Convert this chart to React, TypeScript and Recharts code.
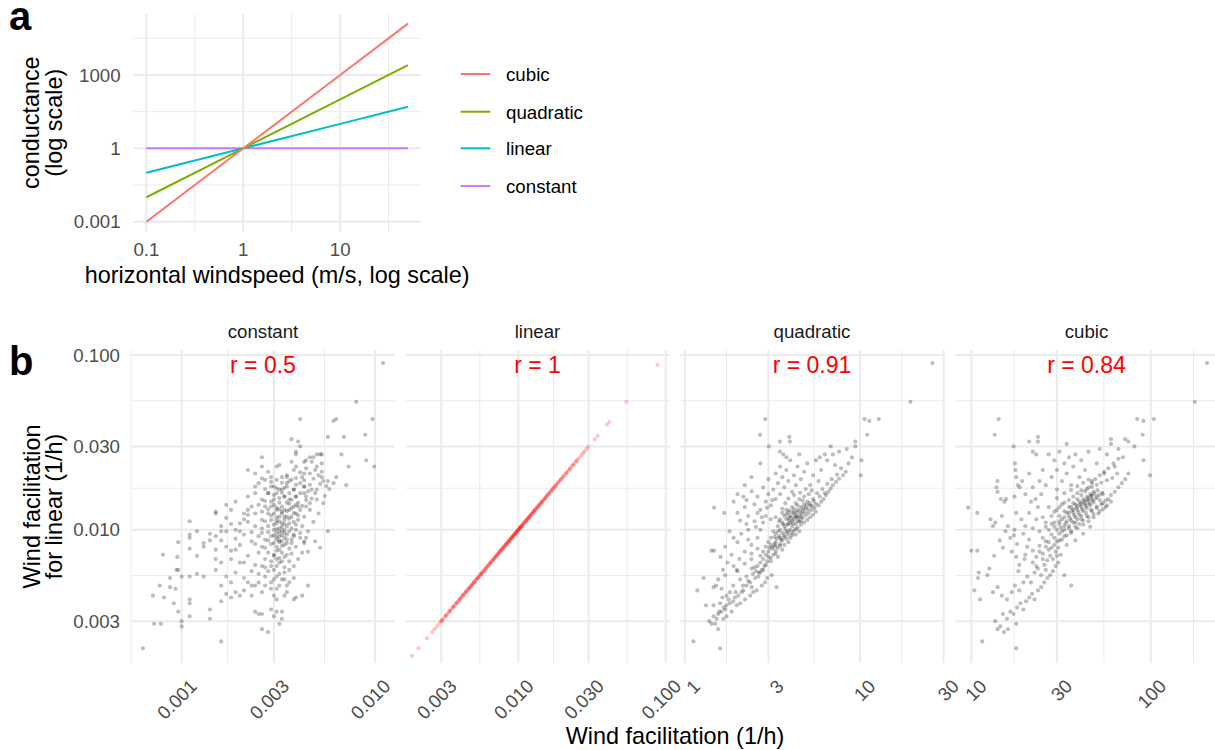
import React from "react";
import { LineChart, Line, ScatterChart, Scatter, XAxis, YAxis, ReferenceLine } from "recharts";

const FONT = '"Liberation Sans", Arial, sans-serif';
const GRID = "#EBEBEB";
const TICK = "#4D4D4D";

// ---- panel a: conductance vs windspeed ----
const windspeed = [0.1, 1, 10, 50];
const cubicG = [0.001, 1, 1000, 125000];
const quadraticG = [0.01, 1, 100, 2500];
const linearG = [0.1, 1, 10, 50];
const constantG = [1, 1, 1, 1];

const seriesA = [
  { key: "cubic", color: "#F8766D", values: cubicG },
  { key: "quadratic", color: "#7CAE00", values: quadraticG },
  { key: "linear", color: "#00BFC4", values: linearG },
  { key: "constant", color: "#C77CFF", values: constantG },
];

const aXTicks = [0.1, 1, 10];
const aXLabels = ["0.1", "1", "10"];
const aXMinor = [0.316, 3.16, 31.6];
const aYTicks = [0.001, 1, 1000];
const aYLabels = ["0.001", "1", "1000"];
const aYMinor = [0.0316, 31.6, 31623];

// ---- panel b: wind facilitation, y = linear model ----
const bYTicks = [0.003, 0.01, 0.03, 0.1];
const bYLabels = ["0.003", "0.010", "0.030", "0.100"];
const bYMinor = [0.00548, 0.0173, 0.0548];

const constantPoints = [
  [0.011, 0.09], [0.008, 0.054], [0.0097, 0.043], [0.0063, 0.043], [0.0061, 0.042], [0.0041, 0.043],
  [0.0089, 0.035], [0.0069, 0.034], [0.0057, 0.034], [0.0037, 0.033], [0.004, 0.032], [0.0041, 0.03],
  [0.0039, 0.028], [0.0039, 0.027], [0.0026, 0.026], [0.0067, 0.027], [0.009, 0.025], [0.0099, 0.023],
  [0.0073, 0.023], [0.0071, 0.018], [0.0057, 0.019], [0.0063, 0.02], [0.0046, 0.026], [0.0048, 0.026],
  [0.005, 0.027], [0.0052, 0.027], [0.0053, 0.027], [0.0044, 0.025],
  [0.0053, 0.024], [0.005, 0.023], [0.0053, 0.0215], [0.0053, 0.02], [0.0054, 0.019], [0.0056, 0.0178],
  [0.0058, 0.0171], [0.0061, 0.0185], [0.0049, 0.022], [0.0046, 0.021], [0.0043, 0.021], [0.0042, 0.02],
  [0.0039, 0.0198], [0.0022, 0.022], [0.0024, 0.021], [0.0026, 0.023], [0.0028, 0.0215], [0.0031, 0.023],
  [0.0032, 0.0235], [0.0029, 0.02], [0.0033, 0.02], [0.0035, 0.02], [0.0036, 0.019],
  [0.0055, 0.0156], [0.0054, 0.0142], [0.005, 0.0149], [0.0046, 0.0142], [0.0044, 0.0136], [0.0051, 0.0124],
  [0.0057, 0.0098], [0.0052, 0.0079], [0.0049, 0.0086], [0.0044, 0.009], [0.0043, 0.0084],
  [0.0045, 0.0048], [0.0042, 0.0042], [0.0039, 0.0041], [0.0038, 0.004],
  [0.0032, 0.0029], [0.0031, 0.0034], [0.0029, 0.0035], [0.0026, 0.0033], [0.0025, 0.0033], [0.0024, 0.0034],
  [0.0033, 0.0034], [0.003, 0.0032], [0.0033, 0.0031], [0.0026, 0.0027], [0.0028, 0.0026],
  [0.00063, 0.0021], [0.00072, 0.0029], [0.00078, 0.0029], [0.00081, 0.0041], [0.00071, 0.0042],
  [0.00077, 0.0048], [0.00087, 0.0047], [0.00093, 0.0046], [0.00091, 0.0038], [0.00096, 0.0034],
  [0.001, 0.003], [0.001, 0.0028], [0.0011, 0.004], [0.0011, 0.0038], [0.0011, 0.0032], [0.0014, 0.0035],
  [0.0014, 0.0031], [0.0016, 0.0023], [0.0016, 0.0039], [0.0017, 0.0043], [0.0018, 0.0041],
  [0.0008, 0.0072], [0.00095, 0.007], [0.00096, 0.0085], [0.0011, 0.0112], [0.0011, 0.0094], [0.0011, 0.0078],
  [0.0011, 0.009], [0.0012, 0.0098], [0.0013, 0.0084], [0.0013, 0.008], [0.0014, 0.0095], [0.0014, 0.0087],
  [0.0012, 0.0071], [0.0011, 0.0054], [0.0012, 0.0056], [0.0013, 0.0054], [0.00096, 0.0059], [0.00094, 0.0059],
  [0.00087, 0.0053], [0.001, 0.0054],
  [0.0015, 0.0124], [0.0015, 0.0127], [0.0016, 0.0105], [0.0017, 0.0139], [0.0018, 0.013], [0.0019, 0.0145],
  [0.0021, 0.0124], [0.0022, 0.013], [0.002, 0.0109], [0.0019, 0.01], [0.0017, 0.0098], [0.0016, 0.0098],
  [0.0015, 0.0092], [0.0015, 0.0077], [0.0017, 0.008], [0.0019, 0.0077], [0.0018, 0.0068], [0.0016, 0.0065],
  [0.0015, 0.0059], [0.0015, 0.0068], [0.002, 0.0065], [0.0021, 0.0065], [0.0019, 0.0057], [0.0021, 0.0053],
  [0.0022, 0.005], [0.0017, 0.0054], [0.0018, 0.005], [0.0016, 0.0048], [0.0019, 0.0044], [0.002, 0.0042],
  [0.0021, 0.0045], [0.0023, 0.0048], [0.0023, 0.0042], [0.0024, 0.0048], [0.0025, 0.005], [0.0026, 0.0044],
  [0.0027, 0.0048], [0.0029, 0.0046], [0.003, 0.0042], [0.0031, 0.004], [0.0034, 0.0042], [0.0035, 0.0044],
  [0.0036, 0.005], [0.0031, 0.0054], [0.0034, 0.0052], [0.0038, 0.0053],
  [0.0023, 0.0136], [0.0024, 0.0124], [0.0024, 0.0105], [0.0026, 0.0149], [0.0026, 0.0114], [0.0026, 0.0096],
  [0.0026, 0.008], [0.0027, 0.0136], [0.0027, 0.0088], [0.0027, 0.0068], [0.0028, 0.0162], [0.0028, 0.0124],
  [0.0028, 0.0105], [0.0028, 0.0074], [0.0029, 0.0177], [0.0029, 0.0136], [0.0029, 0.0114], [0.0029, 0.0092],
  [0.0029, 0.0062], [0.003, 0.0149], [0.003, 0.0124], [0.003, 0.01], [0.003, 0.0084], [0.003, 0.0071],
  [0.0031, 0.0193], [0.0031, 0.0162], [0.0031, 0.013], [0.0031, 0.0109], [0.0031, 0.0096], [0.0031, 0.0088],
  [0.0031, 0.008], [0.0031, 0.0068], [0.0032, 0.0143], [0.0032, 0.0119], [0.0032, 0.0102], [0.0032, 0.0092],
  [0.0032, 0.0077], [0.0032, 0.0065], [0.0033, 0.017], [0.0033, 0.0136], [0.0033, 0.0124], [0.0033, 0.0109],
  [0.0033, 0.0098], [0.0033, 0.0086], [0.0033, 0.0074], [0.0034, 0.0155], [0.0034, 0.013], [0.0034, 0.0114],
  [0.0034, 0.01], [0.0034, 0.009], [0.0034, 0.0082], [0.0034, 0.007], [0.0035, 0.0185], [0.0035, 0.0143],
  [0.0035, 0.0119], [0.0035, 0.0105], [0.0035, 0.0094], [0.0035, 0.0084], [0.0036, 0.0162], [0.0036, 0.013],
  [0.0036, 0.0109], [0.0036, 0.0098], [0.0036, 0.0078], [0.0037, 0.0149], [0.0037, 0.0119], [0.0037, 0.0102],
  [0.0037, 0.0088], [0.0038, 0.017], [0.0038, 0.0136], [0.0038, 0.0111], [0.0038, 0.0094], [0.0039, 0.0155],
  [0.0039, 0.0124], [0.0039, 0.01], [0.004, 0.0143], [0.004, 0.0114], [0.0041, 0.0162], [0.0041, 0.013],
  [0.0042, 0.0105], [0.0043, 0.0177], [0.0043, 0.0119], [0.0044, 0.0155], [0.0045, 0.0098], [0.0046, 0.013],
  [0.0047, 0.017], [0.0048, 0.0111], [0.0025, 0.0185], [0.0027, 0.0193], [0.0024, 0.0162], [0.0022, 0.0155],
  [0.0022, 0.0111], [0.0021, 0.0094], [0.0023, 0.0086], [0.0025, 0.0074], [0.0026, 0.0062], [0.0028, 0.0058],
  [0.003, 0.0059], [0.0032, 0.0056], [0.0034, 0.0061], [0.0036, 0.0066], [0.0033, 0.0052], [0.0035, 0.0048],
  [0.0031, 0.0046], [0.0029, 0.005], [0.0027, 0.0054], [0.0037, 0.0073], [0.0039, 0.008], [0.0041, 0.009],
  [0.0043, 0.0086], [0.0045, 0.0075],
  [0.0037, 0.0245], [0.0039, 0.023], [0.0043, 0.0245], [0.0044, 0.0225], [0.0047, 0.0245], [0.0038, 0.022],
  [0.0041, 0.0185], [0.0043, 0.0177], [0.0046, 0.0181], [0.005, 0.017], [0.0038, 0.017], [0.0035, 0.0177],
  [0.0032, 0.017], [0.003, 0.0177], [0.0036, 0.0149], [0.0039, 0.0155], [0.0043, 0.0162], [0.004, 0.0136],
  [0.0034, 0.0155], [0.0028, 0.0162], [0.0024, 0.0177], [0.0026, 0.0197],
  [0.0029, 0.0121], [0.0031, 0.0118], [0.0033, 0.0127], [0.003, 0.0139], [0.0032, 0.0152], [0.0034, 0.0108],
  [0.0031, 0.0101], [0.003, 0.0093], [0.0032, 0.0087], [0.0033, 0.0081], [0.0031, 0.0076], [0.003, 0.0072],
  [0.0032, 0.0069], [0.0029, 0.0083], [0.0028, 0.0097], [0.0027, 0.0112], [0.0026, 0.0127], [0.0025, 0.0139],
  [0.0027, 0.0146], [0.0033, 0.0163], [0.0034, 0.0174], [0.0036, 0.0141], [0.0035, 0.0128], [0.0037, 0.0133],
  [0.0036, 0.0116], [0.0034, 0.0096], [0.0035, 0.0088], [0.0033, 0.0093], [0.0032, 0.0112], [0.0031, 0.0134],
  [0.003, 0.0158], [0.0029, 0.0145], [0.0028, 0.0131], [0.0028, 0.0087], [0.0027, 0.0079], [0.0026, 0.0102],
  [0.0025, 0.0092], [0.0024, 0.0083], [0.0023, 0.0097], [0.0022, 0.0122], [0.0021, 0.0115], [0.002, 0.0098],
  [0.0019, 0.0089], [0.0018, 0.0108], [0.0017, 0.0117], [0.0016, 0.0087], [0.0018, 0.0076], [0.002, 0.0082],
  [0.0022, 0.0071], [0.0024, 0.0063], [0.0023, 0.0058], [0.0025, 0.0056], [0.0027, 0.0061], [0.0029, 0.0066],
  [0.003, 0.0052], [0.0032, 0.0048], [0.0034, 0.0057], [0.0036, 0.0059], [0.0038, 0.0062], [0.004, 0.0068],
  [0.0042, 0.0074], [0.0041, 0.0096], [0.004, 0.0121], [0.0042, 0.0137], [0.0044, 0.0148], [0.0045, 0.0166],
  [0.0043, 0.0192], [0.0041, 0.0213], [0.0039, 0.0181], [0.0037, 0.0194], [0.0035, 0.0206], [0.0033, 0.0186],
  [0.0031, 0.0173], [0.0029, 0.0188], [0.0027, 0.0171], [0.0048, 0.0196], [0.0051, 0.0205], [0.0052, 0.0183],
  [0.0049, 0.0162], [0.0047, 0.0151], [0.0031, 0.0062], [0.0033, 0.0066], [0.0035, 0.0072], [0.0037, 0.0084],
  [0.0038, 0.0092], [0.0039, 0.0107], [0.0038, 0.0125], [0.0039, 0.0139], [0.0032, 0.0085], [0.0031, 0.0091],
  [0.0033, 0.0104], [0.0034, 0.0119], [0.0032, 0.0131], [0.0031, 0.0113], [0.003, 0.0107], [0.0032, 0.0097],
];

const linearValues = [
  0.0019, 0.0021, 0.0024, 0.0026, 0.0027, 0.0028, 0.0029, 0.003, 0.003, 0.0031, 0.0032, 0.0032, 0.0033,
  0.0034, 0.0034, 0.0035, 0.0036, 0.0036, 0.0037, 0.0038, 0.0038, 0.0039, 0.004, 0.004, 0.0041, 0.0042,
  0.0042, 0.0043, 0.0044, 0.0044, 0.0045, 0.0046, 0.0046, 0.0047, 0.0048, 0.0048, 0.0049, 0.005, 0.005,
  0.0051, 0.0052, 0.0053, 0.0053, 0.0054, 0.0055, 0.0056, 0.0056, 0.0057, 0.0058, 0.0059, 0.006, 0.0061,
  0.0062, 0.0063, 0.0064, 0.0065, 0.0066, 0.0067, 0.0068, 0.0069, 0.007, 0.0071, 0.0072, 0.0073, 0.0074,
  0.0075, 0.0076, 0.0077, 0.0078, 0.0079, 0.008, 0.0081, 0.0082, 0.0083, 0.0084, 0.0085, 0.0086, 0.0087,
  0.0088, 0.0089, 0.009, 0.0091, 0.0092, 0.0093, 0.0094, 0.0095, 0.0096, 0.0097, 0.0098, 0.0099, 0.01,
  0.0101, 0.0102, 0.0103, 0.0104, 0.0105, 0.0106, 0.0108, 0.0109, 0.011, 0.0112, 0.0113, 0.0114, 0.0116,
  0.0117, 0.0118, 0.012, 0.0121, 0.0123, 0.0124, 0.0126, 0.0128, 0.0129, 0.0131, 0.0133, 0.0135, 0.0137,
  0.0139, 0.0141, 0.0143, 0.0145, 0.0147, 0.015, 0.0152, 0.0154, 0.0157, 0.0159, 0.0162, 0.0165, 0.0168,
  0.0171, 0.0174, 0.0177, 0.018, 0.0184, 0.0188, 0.0192, 0.0196, 0.02, 0.0205, 0.021, 0.0215, 0.022,
  0.0226, 0.0232, 0.0238, 0.0245, 0.0252, 0.026, 0.0268, 0.0275, 0.0282, 0.029, 0.0298, 0.033, 0.0345,
  0.04, 0.0415, 0.054, 0.088,
  0.00305, 0.00325, 0.00345, 0.00365, 0.00385, 0.00405, 0.00425, 0.00445, 0.00465, 0.00485, 0.00505,
  0.00525, 0.00545, 0.00565, 0.00585, 0.00605, 0.00625, 0.00645, 0.00665, 0.00685, 0.00705, 0.00725,
  0.00745, 0.00765, 0.00785, 0.00805, 0.00825, 0.00845, 0.00865, 0.00885, 0.00905, 0.00925, 0.00945,
  0.00965, 0.00985, 0.01005, 0.01025, 0.01045, 0.01065, 0.01095, 0.01125, 0.01155, 0.01185, 0.01215,
  0.01245, 0.01275, 0.01305, 0.0134, 0.0138, 0.0142, 0.0146, 0.0151, 0.0156, 0.0161, 0.0167, 0.0173,
  0.0179, 0.0186, 0.0194, 0.0202, 0.0212, 0.0223, 0.0235, 0.0248,
];

const quadraticPoints = [
  [25.9, 0.09], [19.4, 0.054], [12.8, 0.043], [10.6, 0.043], [11.3, 0.042], [11.0, 0.035], [9.4, 0.032],
  [9.4, 0.03], [10.1, 0.0205], [10.2, 0.025], [2.88, 0.043], [2.69, 0.035], [3.02, 0.03], [3.49, 0.032],
  [3.95, 0.034], [3.98, 0.032], [3.49, 0.028], [3.65, 0.027], [1.47, 0.0134], [1.68, 0.0125], [1.12, 0.0023],
  [1.59, 0.0021], [1.18, 0.0045], [1.28, 0.0053], [1.32, 0.0037], [1.42, 0.0076], [1.47, 0.0076],
  [1.46, 0.0047], [1.51, 0.0048], [1.62, 0.0046], [1.64, 0.0041], [1.7, 0.0055], [1.85, 0.0072], [1.8, 0.0098],
  [2.07, 0.0113], [2.16, 0.0155], [2.41, 0.0166], [2.25, 0.0148],
  [1.38, 0.003], [1.46, 0.0032], [1.52, 0.0031], [1.57, 0.0034], [1.62, 0.0034], [1.7, 0.0035], [1.73, 0.0037],
  [1.81, 0.0038], [1.89, 0.0039], [1.93, 0.0041], [2.02, 0.0042], [2.11, 0.0044], [2.16, 0.0045],
  [2.25, 0.0048], [2.36, 0.005], [2.41, 0.0047], [2.52, 0.0053], [2.63, 0.0054], [2.69, 0.0057], [2.81, 0.0059],
  [1.42, 0.0029], [1.49, 0.0029], [1.55, 0.0027], [1.66, 0.0031], [1.73, 0.0032], [1.85, 0.0034],
  [1.98, 0.0037], [2.07, 0.0038], [2.21, 0.004], [2.36, 0.0042], [2.46, 0.0044], [2.57, 0.0045],
  [2.75, 0.0048], [2.87, 0.005], [2.95, 0.0053], [3.13, 0.0055], [3.34, 0.0047], [1.81, 0.0044],
  [1.89, 0.0048], [1.73, 0.0042], [1.59, 0.0038], [1.46, 0.0037], [2.07, 0.0052], [2.25, 0.0054],
  [1.98, 0.0059], [2.41, 0.006],
  [2.6, 0.0062], [2.7, 0.0065], [2.8, 0.0068], [2.9, 0.0063], [3.0, 0.007], [3.0, 0.0075], [3.1, 0.0066],
  [3.2, 0.0072], [3.2, 0.008], [3.3, 0.0076], [3.3, 0.0085], [3.4, 0.007], [3.4, 0.0079], [3.5, 0.0083],
  [3.5, 0.009], [3.6, 0.0077], [3.6, 0.0087], [3.7, 0.0093], [3.7, 0.0082], [3.8, 0.0089], [3.8, 0.0097],
  [3.9, 0.0085], [3.9, 0.0094], [4.0, 0.01], [4.0, 0.009], [4.1, 0.0096], [4.1, 0.0105], [4.2, 0.0099],
  [4.3, 0.0094], [4.3, 0.0108], [4.4, 0.0103], [4.5, 0.0098], [4.5, 0.0112], [4.6, 0.0107], [4.7, 0.0117],
  [4.8, 0.011], [4.9, 0.0121], [5.0, 0.0114], [5.1, 0.0125], [5.2, 0.0118], [5.3, 0.013], [5.4, 0.0122],
  [5.5, 0.0134], [5.6, 0.0127], [5.8, 0.0138], [6.0, 0.0145], [6.2, 0.015], [6.4, 0.0158], [6.6, 0.0165],
  [6.8, 0.0172], [7.0, 0.018], [7.3, 0.0188], [7.6, 0.0196], [8.0, 0.0205], [8.3, 0.0215], [7.8, 0.0225],
  [7.2, 0.0235], [8.6, 0.024], [9.0, 0.026], [6.5, 0.025], [7.0, 0.027], [7.6, 0.028], [8.4, 0.029],
  [6.8, 0.03], [5.9, 0.026],
  [3.5, 0.01], [3.6, 0.011], [3.7, 0.0105], [3.8, 0.0115], [3.9, 0.0108], [4.0, 0.012], [4.1, 0.0113],
  [4.2, 0.0125], [4.3, 0.0118], [4.4, 0.013], [4.5, 0.0122], [4.6, 0.0135], [4.7, 0.0128], [4.8, 0.014],
  [4.9, 0.0133], [5.0, 0.0145], [5.2, 0.0138], [5.4, 0.015], [3.3, 0.0095], [3.4, 0.0105], [3.2, 0.0098],
  [3.1, 0.009], [3.0, 0.0085], [2.9, 0.008], [2.8, 0.0075], [4.0, 0.011], [4.2, 0.0115], [4.4, 0.0112],
  [4.6, 0.0118], [3.9, 0.0125], [3.7, 0.012], [3.5, 0.0115], [4.1, 0.0135], [4.3, 0.0142], [4.5, 0.015],
  [4.8, 0.0155], [5.1, 0.016], [3.8, 0.013], [3.6, 0.0125],
  [2.0, 0.0125], [2.2, 0.0135], [2.3, 0.012], [2.5, 0.014], [2.6, 0.0155], [2.7, 0.013], [2.8, 0.0175],
  [2.9, 0.0145], [3.0, 0.016], [3.0, 0.0195], [3.1, 0.0138], [3.2, 0.017], [3.3, 0.021], [3.3, 0.015],
  [3.4, 0.0185], [3.5, 0.023], [3.5, 0.016], [3.6, 0.02], [3.7, 0.0175], [3.8, 0.022], [3.9, 0.019],
  [4.0, 0.025], [4.1, 0.0165], [4.2, 0.0205], [4.3, 0.018], [4.4, 0.023], [4.6, 0.0195], [4.8, 0.0215],
  [5.0, 0.024], [5.2, 0.018], [5.4, 0.0205], [5.6, 0.025], [5.8, 0.019], [6.0, 0.022], [6.3, 0.027],
  [4.5, 0.027], [3.8, 0.026], [2.7, 0.024], [2.4, 0.02], [2.2, 0.018], [2.0, 0.016], [1.9, 0.0145],
  [2.5, 0.0112], [2.3, 0.01], [2.1, 0.0095], [2.0, 0.0085], [1.9, 0.009], [1.7, 0.008], [1.6, 0.007],
  [1.75, 0.0065], [2.2, 0.0075], [2.4, 0.0082], [2.6, 0.009], [2.7, 0.01], [2.8, 0.011], [2.9, 0.012],
  [3.1, 0.0115], [2.4, 0.0068], [2.2, 0.0064], [2.0, 0.0058],
  [3.6, 0.0096], [3.75, 0.0101], [3.85, 0.0107], [3.95, 0.0113], [4.05, 0.0118], [4.15, 0.0109], [4.25, 0.0121],
  [4.35, 0.0126], [4.45, 0.0117], [4.55, 0.0128], [4.65, 0.0123], [4.75, 0.0133], [4.85, 0.0126], [4.95, 0.0138],
  [5.05, 0.0131], [5.15, 0.0142], [5.3, 0.0137], [5.45, 0.0146], [5.6, 0.0141], [3.45, 0.0092], [3.55, 0.0088],
  [3.35, 0.0089], [3.25, 0.0083], [3.15, 0.0078], [3.05, 0.0079], [3.4, 0.0098], [3.65, 0.0108], [3.9, 0.0117],
  [4.2, 0.0131], [4.4, 0.0138], [4.7, 0.0147], [3.8, 0.0123], [3.95, 0.0129], [4.1, 0.0126], [4.35, 0.0119],
  [4.6, 0.0112], [4.3, 0.0101], [4.1, 0.0093], [3.9, 0.0098], [3.7, 0.0091], [3.5, 0.0081], [3.3, 0.0073],
  [3.1, 0.0069], [2.95, 0.0066], [2.85, 0.0062], [2.75, 0.0059], [2.65, 0.0057], [2.55, 0.0058], [2.5, 0.0061],
  [2.7, 0.0071], [2.9, 0.0072], [3.1, 0.0082], [3.3, 0.0081], [3.25, 0.0091], [3.45, 0.0112], [3.3, 0.0118],
  [3.6, 0.0132], [3.75, 0.0142], [3.9, 0.0151], [4.2, 0.0158], [4.55, 0.0163], [4.9, 0.0171], [5.3, 0.0168],
  [5.7, 0.0162], [6.1, 0.0171], [6.5, 0.0183], [6.9, 0.0195], [7.4, 0.0207], [5.9, 0.0155], [6.3, 0.0162],
  [2.3, 0.0051], [2.45, 0.0056], [2.15, 0.0048], [1.95, 0.0044], [1.78, 0.004], [1.67, 0.0036], [1.55, 0.0033],
  [2.6, 0.0078], [2.4, 0.0073], [2.05, 0.0068], [1.9, 0.0062], [1.65, 0.0059], [1.55, 0.0052], [2.3, 0.0088],
  [2.55, 0.0104], [2.75, 0.0118], [2.95, 0.0134], [3.15, 0.0148], [2.6, 0.0125], [2.25, 0.0108],
];

const cubicPoints = [
  [206, 0.09], [176, 0.054], [104, 0.043], [84, 0.043], [91, 0.042], [90, 0.035], [75, 0.032], [81, 0.03],
  [99, 0.0205], [91, 0.025], [60, 0.033],
  [14.2, 0.043], [13.5, 0.035], [17.2, 0.03], [21, 0.032], [23.5, 0.034], [23.5, 0.032], [22, 0.028],
  [23, 0.027], [9.6, 0.0134], [10.8, 0.0125], [11.5, 0.0023], [17.8, 0.0021], [10.0, 0.0076], [10.8, 0.0076],
  [10.4, 0.0045], [11.2, 0.004], [10.9, 0.0053], [11.0, 0.0057],
  [17.5, 0.024], [17.6, 0.022], [17.8, 0.02], [18.2, 0.018], [18.6, 0.0175], [17.4, 0.0155], [17.8, 0.0125],
  [17.4, 0.01], [17.3, 0.0093], [18.0, 0.0083], [17.8, 0.007], [18.5, 0.0063], [18.3, 0.0058],
  [14.0, 0.019], [13.8, 0.0175], [14.0, 0.0165], [14.6, 0.015], [15.3, 0.0145], [15.6, 0.015], [13.6, 0.011],
  [13.2, 0.0105], [12.8, 0.0115], [14.8, 0.012], [15.5, 0.0098], [16.0, 0.0105], [14.4, 0.0087], [15.0, 0.0079],
  [13.4, 0.0071], [12.6, 0.006], [12.3, 0.0055], [16.5, 0.009], [16.8, 0.0075], [19.0, 0.0115], [19.5, 0.0095],
  [20.0, 0.0105], [20.5, 0.008], [19.8, 0.0068], [21.0, 0.0125], [21.5, 0.0145], [20.0, 0.016], [22.0, 0.0175],
  [22.8, 0.015], [23.5, 0.0135], [24.5, 0.016], [19.2, 0.019], [21.0, 0.021],
  [13.6, 0.003], [14.0, 0.0027], [14.5, 0.0028], [15.2, 0.0026], [16.0, 0.0027], [15.0, 0.0033], [15.8, 0.0031],
  [16.5, 0.0034], [17.2, 0.0033], [17.8, 0.0029], [18.0, 0.0036], [18.8, 0.0038], [19.5, 0.0035], [20.2, 0.0039],
  [21.0, 0.0041], [21.8, 0.0043], [22.5, 0.004], [23.5, 0.0045], [24.5, 0.0047], [25.5, 0.005], [26.5, 0.0053],
  [27.5, 0.0055], [28.5, 0.0058], [29.5, 0.0062], [30.5, 0.0065], [13.2, 0.0044], [14.0, 0.0047], [14.8, 0.0042],
  [15.8, 0.004], [16.8, 0.0044], [17.5, 0.0048], [18.5, 0.0045], [19.5, 0.005], [20.5, 0.0054], [21.5, 0.005],
  [22.5, 0.0057], [23.5, 0.006], [24.5, 0.0055], [25.5, 0.0063], [26.5, 0.0067], [27.5, 0.0071], [28.5, 0.0068],
  [29.5, 0.0075], [30.5, 0.0079], [31.5, 0.0072], [36, 0.0048], [33, 0.0055],
  [22.0, 0.0065], [23.0, 0.007], [24.0, 0.0075], [25.0, 0.0068], [26.0, 0.008], [27.0, 0.0085], [28.0, 0.0079],
  [29.0, 0.009], [30.0, 0.0086], [31.0, 0.0095], [32.0, 0.0088], [33.0, 0.01], [34.0, 0.0093], [35.0, 0.0105],
  [36.0, 0.0098], [37.0, 0.011], [38.0, 0.0104], [39.0, 0.0115], [40.0, 0.0108], [41.0, 0.012], [42.0, 0.0113],
  [43.5, 0.0125], [45.0, 0.0118], [46.5, 0.013], [48.0, 0.0123], [50.0, 0.0136], [52.0, 0.0128], [54.0, 0.0142],
  [56.0, 0.0135], [58.0, 0.015], [60.0, 0.0158], [63.0, 0.0165], [66.0, 0.0175], [69.0, 0.0185], [72.0, 0.0195],
  [75.0, 0.021], [25.0, 0.009], [27.0, 0.01], [29.0, 0.011], [31.0, 0.012], [33.0, 0.0128], [35.0, 0.0135],
  [37.0, 0.0142], [39.0, 0.015], [41.0, 0.0158], [43.0, 0.0166], [45.0, 0.0175], [47.0, 0.0185], [49.0, 0.0195],
  [52.0, 0.0205], [55.0, 0.0215], [58.0, 0.0225], [62.0, 0.024], [66.0, 0.0255],
  [30, 0.01], [31, 0.0108], [32, 0.0115], [33, 0.0105], [34, 0.0112], [35, 0.012], [36, 0.0113], [37, 0.0125],
  [38, 0.0118], [39, 0.013], [40, 0.0122], [41, 0.0135], [42, 0.0128], [43, 0.014], [44, 0.0133], [45, 0.0145],
  [46, 0.0138], [47, 0.015], [48, 0.0143], [50, 0.0155], [52, 0.0148], [54, 0.016], [34, 0.0125], [36, 0.0135],
  [38, 0.014], [40, 0.0145], [42, 0.015], [44, 0.0155], [46, 0.016], [48, 0.0165], [32, 0.0098], [35, 0.0102],
  [38, 0.011], [41, 0.0115], [44, 0.012], [47, 0.0128], [50, 0.0133], [53, 0.014], [56, 0.0147], [30, 0.013],
  [32, 0.014], [28, 0.012], [26, 0.011], [27, 0.0135],
  [26, 0.018], [28, 0.02], [30, 0.022], [32, 0.019], [33, 0.024], [34, 0.021], [35, 0.026], [36, 0.018],
  [37, 0.023], [38, 0.027], [40, 0.02], [41, 0.025], [43, 0.022], [45, 0.028], [47, 0.019], [50, 0.024],
  [52, 0.029], [55, 0.021], [57, 0.027], [60, 0.031], [63, 0.023], [66, 0.029], [70, 0.026], [72, 0.033],
  [30, 0.017], [29, 0.025], [31, 0.028], [27, 0.027], [25, 0.022], [24, 0.019], [34, 0.031],
  [31.5, 0.0103], [33.5, 0.0109], [35.5, 0.0116], [37.5, 0.0121], [39.5, 0.0126], [41.5, 0.0131], [43.5, 0.0137],
  [45.5, 0.0141], [47.5, 0.0147], [49.5, 0.0151], [51.5, 0.0158], [53.5, 0.0163], [36.5, 0.0129], [38.5, 0.0134],
  [40.5, 0.0139], [42.5, 0.0144], [44.5, 0.0149], [46.5, 0.0156], [48.5, 0.0161], [50.5, 0.0168], [33, 0.0118],
  [35, 0.0126], [37, 0.0131], [39, 0.0137], [41, 0.0142], [43, 0.0147], [45, 0.0152], [47, 0.0157], [29, 0.0104],
  [31, 0.0112], [33, 0.0092], [36, 0.0096], [39, 0.0102], [42, 0.0107], [45, 0.0112], [48, 0.0118], [51, 0.0124],
  [54, 0.0131], [57, 0.0138], [60, 0.0145], [28, 0.0094], [26, 0.0086], [24, 0.0081], [22, 0.0076], [25, 0.0073],
  [27, 0.0077], [29, 0.0082], [31, 0.0087], [24, 0.0098], [26, 0.0104], [28, 0.0108], [25, 0.0118], [29, 0.0127],
  [31, 0.0135], [33, 0.0143], [35, 0.0148], [37, 0.0155], [39, 0.0162], [41, 0.0168], [44, 0.0171], [47, 0.0176],
  [50, 0.0181], [53, 0.0186], [57, 0.0192], [61, 0.0198], [65, 0.021], [30, 0.0152], [33, 0.0162], [36, 0.0169],
  [39, 0.0178], [42, 0.0186], [45, 0.0194], [22, 0.0102], [23, 0.0115], [21, 0.0088], [20, 0.0072], [23, 0.0062],
  [26, 0.0059], [30, 0.0071], [34, 0.0082], [38, 0.0087], [42, 0.0095], [46, 0.0104],
];

// facet layout (pixel geometry) and axis settings
const PANEL_TOP = 350;
const PANEL_H = 313;
const PANEL_W = 264;
const Y_DOMAIN = [0.00173, 0.1069];

const facets = [
  {
    name: "constant", r: "r = 0.5", left: 131, domain: [0.000547, 0.01268],
    ticks: [0.001, 0.003, 0.01], labels: ["0.001", "0.003", "0.010"], minor: [0.000548, 0.00173, 0.00548],
    data: constantPoints, color: "#000000", opacity: 0.26,
  },
  {
    name: "linear", r: "r = 1", left: 405.5, domain: [0.00173, 0.1069],
    ticks: [0.003, 0.01, 0.03, 0.1], labels: ["0.003", "0.010", "0.030", "0.100"], minor: [0.00548, 0.0173, 0.0548],
    data: linearValues.map((v) => [v, v]), color: "#FF0000", opacity: 0.22,
  },
  {
    name: "quadratic", r: "r = 0.91", left: 680, domain: [0.939, 30.16],
    ticks: [1, 3, 10, 30], labels: ["1", "3", "10", "30"], minor: [1.73, 5.48, 17.3],
    data: quadraticPoints, color: "#000000", opacity: 0.26,
  },
  {
    name: "cubic", r: "r = 0.84", left: 954.5, domain: [8.11, 240],
    ticks: [10, 30, 100], labels: ["10", "30", "100"], minor: [17.3, 54.8, 173],
    data: cubicPoints, color: "#000000", opacity: 0.26,
  },
];

function RotTick(props: any) {
  const { x, y, payload, ticks, labels } = props;
  const i = ticks.indexOf(payload.value);
  const ax = x + 7;
  const ay = y + 15;
  return (
    <text x={ax} y={ay} dy="0.72em" textAnchor="end" fill={TICK} fontSize={18.7} fontFamily={FONT}
      transform={`rotate(-45 ${ax} ${ay})`}>
      {labels[i]}
    </text>
  );
}

function Facet({ f, index }: { f: any; index: number }) {
  const yw = index === 0 ? 131 : 0;
  const rows = f.data.map(([x, y]: number[]) => ({ x, y }));
  return (
    <div style={{ position: "absolute", left: f.left - yw, top: PANEL_TOP }}>
      <ScatterChart width={PANEL_W + yw} height={PANEL_H + 70} margin={{ top: 0, right: 0, bottom: 0, left: 0 }}>
        <XAxis dataKey="x" type="number" scale="log" domain={f.domain} allowDataOverflow ticks={f.ticks}
          axisLine={false} tickLine={false} tickSize={0} tickMargin={0} height={70} interval={0}
          tick={(p: any) => <RotTick {...p} ticks={f.ticks} labels={f.labels} />} />
        <YAxis dataKey="y" type="number" scale="log" domain={Y_DOMAIN} allowDataOverflow ticks={bYTicks}
          hide={index !== 0} width={yw} axisLine={false} tickLine={false} tickSize={0} tickMargin={11} interval={0}
          tick={{ fill: TICK, fontSize: 18.7, fontFamily: FONT }}
          tickFormatter={(v: number) => bYLabels[bYTicks.indexOf(v)]} />
        {bYMinor.map((v) => <ReferenceLine key={"ym" + v} y={v} stroke={GRID} strokeWidth={1} />)}
        {f.minor.map((v: number) => <ReferenceLine key={"xm" + v} x={v} stroke={GRID} strokeWidth={1} />)}
        {bYTicks.map((v) => <ReferenceLine key={"y" + v} y={v} stroke={GRID} strokeWidth={2} />)}
        {f.ticks.map((v: number) => <ReferenceLine key={"x" + v} x={v} stroke={GRID} strokeWidth={2} />)}
        <Scatter data={rows} isAnimationActive={false}
          shape={(p: any) => <circle cx={p.cx} cy={p.cy} r={2.1} fill={f.color} fillOpacity={f.opacity} />} />
      </ScatterChart>
    </div>
  );
}

function PanelA() {
  const rows = windspeed.map((s, i) => ({
    speed: s, cubic: cubicG[i], quadratic: quadraticG[i], linear: linearG[i], constant: constantG[i],
  }));
  return (
    <div style={{ position: "absolute", left: 0, top: 0 }}>
      <LineChart width={421} height={271.6} data={rows} margin={{ top: 13.8, right: 0, bottom: 0, left: 0 }}>
        <XAxis dataKey="speed" type="number" scale="log" domain={[0.0733, 68.2]} allowDataOverflow ticks={aXTicks}
          axisLine={false} tickLine={false} tickSize={0} tickMargin={11.4} height={40} interval={0}
          tick={{ fill: TICK, fontSize: 18.7, fontFamily: FONT }}
          tickFormatter={(v: number) => aXLabels[aXTicks.indexOf(v)]} />
        <YAxis type="number" scale="log" domain={[0.000394, 316228]} allowDataOverflow ticks={aYTicks}
          width={133.3} axisLine={false} tickLine={false} tickSize={0} tickMargin={12.7} interval={0}
          tick={{ fill: TICK, fontSize: 18.7, fontFamily: FONT }}
          tickFormatter={(v: number) => aYLabels[aYTicks.indexOf(v)]} />
        {aYMinor.map((v) => <ReferenceLine key={"ym" + v} y={v} stroke={GRID} strokeWidth={1} />)}
        {aXMinor.map((v) => <ReferenceLine key={"xm" + v} x={v} stroke={GRID} strokeWidth={1} />)}
        {aYTicks.map((v) => <ReferenceLine key={"y" + v} y={v} stroke={GRID} strokeWidth={2} />)}
        {aXTicks.map((v) => <ReferenceLine key={"x" + v} x={v} stroke={GRID} strokeWidth={2} />)}
        {seriesA.slice().reverse().map((s) => (
          <Line key={s.key} dataKey={s.key} stroke={s.color} strokeWidth={2} dot={false}
            isAnimationActive={false} type="linear" />
        ))}
      </LineChart>
    </div>
  );
}

function Overlay() {
  const legendY = [74, 111.7, 148.3, 186];
  return (
    <svg width={1215} height={750} style={{ position: "absolute", left: 0, top: 0, pointerEvents: "none" }}
      fontFamily={FONT}>
      <text x={9} y={30} fontSize={40} fontWeight="bold" fill="#000">a</text>
      <text x={9} y={375} fontSize={40} fontWeight="bold" fill="#000">b</text>

      {/* panel a titles */}
      <text x={39.5} y={122.7} transform="rotate(-90 39.5 122.7)" textAnchor="middle" fontSize={23.4} fill="#000">
        conductance
      </text>
      <text x={62.3} y={122.7} transform="rotate(-90 62.3 122.7)" textAnchor="middle" fontSize={23.4} fill="#000">
        (log scale)
      </text>
      <text x={277.2} y={283.3} textAnchor="middle" fontSize={23.4} fill="#000">
        horizontal windspeed (m/s, log scale)
      </text>

      {/* panel a legend */}
      {seriesA.map((s, i) => (
        <g key={s.key}>
          <line x1={460.6} x2={490.3} y1={legendY[i]} y2={legendY[i]} stroke={s.color} strokeWidth={2} />
          <text x={506} y={legendY[i] + 6.8} fontSize={18.7} fill="#000">{s.key}</text>
        </g>
      ))}

      {/* panel b titles */}
      <text x={40} y={506.5} transform="rotate(-90 40 506.5)" textAnchor="middle" fontSize={23.4} fill="#000">
        Wind facilitation
      </text>
      <text x={62} y={506.5} transform="rotate(-90 62 506.5)" textAnchor="middle" fontSize={23.4} fill="#000">
        for linear (1/h)
      </text>
      <text x={675} y={744} textAnchor="middle" fontSize={23.4} fill="#000">Wind facilitation (1/h)</text>

      {facets.map((f) => (
        <g key={f.name}>
          <text x={f.left + PANEL_W / 2} y={338.3} textAnchor="middle" fontSize={18.7} fill="#1A1A1A">{f.name}</text>
          <text x={f.left + PANEL_W / 2} y={372.7} textAnchor="middle" fontSize={23} fill="#FF0000">{f.r}</text>
        </g>
      ))}
    </svg>
  );
}

export default function App() {
  return (
    <div style={{ position: "absolute", left: 0, top: 0, width: 1215, height: 750, overflow: "hidden",
      background: "#fff", fontFamily: FONT }}>
      <style>{`.recharts-surface { overflow: visible; } .recharts-wrapper { overflow: visible; }`}</style>
      <PanelA />
      {facets.map((f, i) => <Facet key={f.name} f={f} index={i} />)}
      <Overlay />
    </div>
  );
}
